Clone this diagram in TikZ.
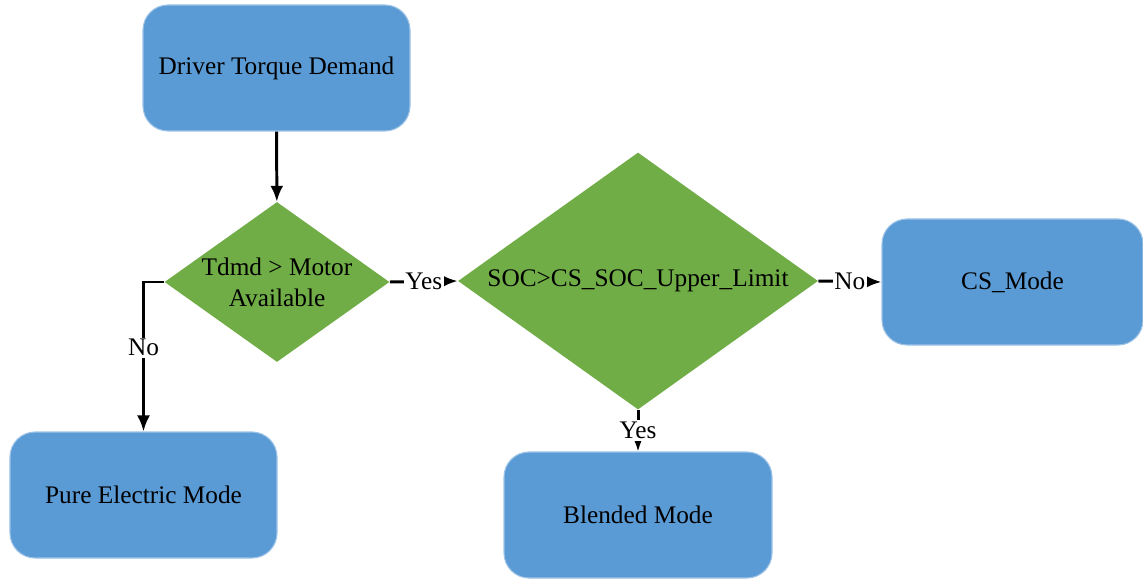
\documentclass[tikz,border=0pt]{standalone}
\usepackage{fontspec}
\setmainfont{Liberation Serif}
\usetikzlibrary{shapes.geometric,arrows.meta}

\definecolor{boxblue}{HTML}{5B9BD5}
\definecolor{boxedge}{HTML}{9DC3E6}
\definecolor{decgreen}{HTML}{70AD47}

\begin{document}
\begin{tikzpicture}[
    x=1cm,y=1cm,
    >={Latex[length=3.2mm,width=2.6mm]},
    mode/.style={
        rounded corners=5mm,
        draw=boxedge,
        line width=0.6pt,
        fill=boxblue,
        minimum width=5.34cm,
        minimum height=2.52cm,
        font=\fontsize{14.4}{17.6}\selectfont,
        align=center
    },
    decision/.style={
        diamond,
        draw=none,
        fill=decgreen,
        inner sep=0pt,
        font=\fontsize{14.4}{17.6}\selectfont,
        align=center
    },
    arr/.style={->, line width=1.7pt, draw=black},
    lbl/.style={fill=white, inner sep=1pt, font=\fontsize{14.4}{17.6}\selectfont}
]
    \useasboundingbox (0,0) rectangle (22.86,-11.58);

    % demand
    \node[mode] (demand) at (5.53,-1.36) {Driver Torque Demand};

    % decisions
    \node[decision, aspect=1.5, minimum width=4.5cm, minimum height=3.2cm]
        (motor) at (5.54,-5.64) {Tdmd > Motor\\Available};
    \node[decision, aspect=2.5, minimum width=7.2cm, minimum height=5.14cm]
        (soc) at (12.76,-5.62) {SOC>CS\_SOC\_Upper\_Limit};

    % modes
    \node[mode, minimum width=5.22cm] (cs) at (20.25,-5.64) {CS\_Mode};
    \node[mode] (electric) at (2.87,-9.9) {Pure Electric Mode};
    \node[mode, minimum width=5.36cm] (blended) at (12.76,-10.3) {Blended Mode};

    \draw[arr] (demand) -- (motor);
    \draw[arr] (motor.west) -| node[lbl, pos=0.72] {No} (electric.north);
    \draw[arr] (motor.east) -- node[lbl] {Yes} (soc.west);
    \draw[arr] (soc.east) -- node[lbl] {No} (cs.west);
    \draw[arr] (soc.south) -- node[lbl] {Yes} (blended.north);

\end{tikzpicture}
\end{document}
